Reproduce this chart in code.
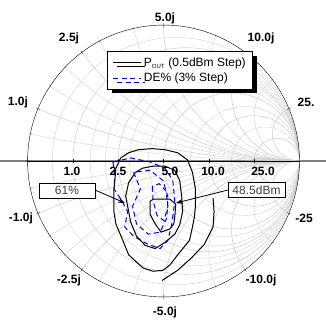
\documentclass[border=0pt]{standalone}
\usepackage{pgfplots}
\pgfplotsset{compat=1.18}
\usepgfplotslibrary{smithchart}
\usetikzlibrary{arrows.meta,shadows}
\usepackage{fontspec}
\setmainfont{Liberation Sans}
\begin{document}
\begin{tikzpicture}
\useasboundingbox (0pt,0pt) rectangle (326pt,-321pt);
\draw[black!50, line width=1.8pt] (0pt,-161pt) -- (326pt,-161pt);
\begin{smithchart}[
  at={(163.5pt,-161pt)}, anchor=center,
  scale only axis, width=272pt, height=272pt,
  show origin=false,
  xtick={0.2,0.5,1,2,5},
  minor xtick={0.1,0.3,0.4,0.6,0.8,1.5,3},
  ytick={-5,-2,-1,-0.5,-0.2,0,0.2,0.5,1,2,5},
  minor ytick={-3,-1.5,-0.8,-0.6,-0.4,-0.3,-0.1,0.1,0.3,0.4,0.6,0.8,1.5,3},
  xminorgrids=true, yminorgrids=true,
  xticklabels={}, yticklabels={},
  grid style={black!20, line width=0.5pt},
  minor grid style={black!16, line width=0.45pt},
  legend style={draw=black, fill=white, line width=0.8pt,
    drop shadow={shadow xshift=4pt, shadow yshift=-4pt, opacity=1, fill=black},
    at={(0.294,0.903)}, anchor=north west,
    font=\fontsize{12}{13}\selectfont, inner xsep=5pt, inner ysep=4pt,
    row sep=1pt},
  legend cell align=left,
  legend image code/.code={\draw[#1] (0pt,0pt) -- (28pt,0pt);},
]
% Pout contours (pixel-read, Gamma plane)
\addplot[is smithchart cs, black, line width=1pt] coordinates {
(-0.0975,-0.2955) (-0.0758,-0.2803) (0.0469,-0.2803) (0.0903,-0.3182) (0.0830,-0.4091)
(0.0758,-0.4621) (0.0469,-0.5) (-0.0181,-0.5227) (-0.0614,-0.4621) (-0.0975,-0.3939) (-0.0975,-0.2955)};
\addlegendentry{P\textsubscript{\fontsize{6}{6}\selectfont OUT} (0.5dBm Step)}
\addplot[is smithchart cs, blue, dashed, dash pattern=on 5pt off 3.5pt, line width=1pt] coordinates {
(-0.3718,-0.0076) (-0.3574,-0.1061) (-0.3646,-0.2045) (-0.3141,-0.2803) (-0.2635,-0.3712)
(-0.2852,-0.4848) (-0.2202,-0.5530) (-0.1119,-0.6136) (-0.0253,-0.6439) (0.0325,-0.5833)
(0.0614,-0.4621) (0.0830,-0.2955) (0.0686,-0.1439) (0.0108,-0.0530) (-0.0975,-0.0076)
(-0.2419,0.0227) (-0.3718,-0.0076)};
\addlegendentry{DE\% (3\% Step)}
\addplot[is smithchart cs, black, line width=1pt, forget plot] coordinates {
(-0.1552,-0.0530) (-0.0758,-0.0379) (0.0108,-0.0379) (0.0830,-0.0682) (0.1191,-0.1439)
(0.1336,-0.2576) (0.1408,-0.3712) (0.1191,-0.4697) (0.0830,-0.5379) (0.0108,-0.5985)
(-0.0614,-0.6439) (-0.1336,-0.6212) (-0.1986,-0.5530) (-0.2419,-0.4470) (-0.2635,-0.3333)
(-0.2780,-0.2576) (-0.2563,-0.1591) (-0.2058,-0.0833) (-0.1552,-0.0530)};
\addplot[is smithchart cs, black, line width=1pt, forget plot] coordinates {
(-0.3502,-0.0530) (-0.3141,0.0227) (-0.2563,0.0606) (-0.1841,0.0833) (-0.0830,0.0909)
(0.0108,0.0833) (0.1047,0.0606) (0.1769,0.0076) (0.2130,-0.0833) (0.2347,-0.2045)
(0.2347,-0.3333) (0.2274,-0.4091) (0.2130,-0.4848) (0.1913,-0.5833) (0.1047,-0.6894)
(0.0469,-0.7652) (-0.0036,-0.8030) (-0.0758,-0.8106) (-0.1480,-0.7879) (-0.1913,-0.75)
(-0.2563,-0.6894) (-0.2996,-0.5833) (-0.3502,-0.4621) (-0.3646,-0.3712) (-0.3646,-0.2197)
(-0.3502,-0.0530)};
\addplot[is smithchart cs, black, line width=1pt, forget plot] coordinates {
(0.3646,-0.2727) (0.3718,-0.3712) (0.3646,-0.4848) (0.2996,-0.6136) (0.2058,-0.7121)
(0.1047,-0.8030) (-0.0108,-0.8788)};
% DE contours
\addplot[is smithchart cs, blue, dash pattern=on 5pt off 3.5pt, line width=1pt, forget plot] coordinates {
(-0.2202,-0.0833) (-0.1697,-0.2045) (-0.2274,-0.3333) (-0.1986,-0.4621) (-0.1119,-0.5379)
(-0.0253,-0.5227) (0.0253,-0.4167) (0.0325,-0.2652) (-0.0036,-0.1439) (-0.0975,-0.0682)
(-0.2202,-0.0833)};
\addplot[is smithchart cs, blue, dash pattern=on 5pt off 3.5pt, line width=1pt, forget plot] coordinates {
(-0.0830,-0.1894) (-0.0758,-0.2955) (-0.0469,-0.4015) (0.0036,-0.4394) (0.0325,-0.3333)
(0.0181,-0.2197) (-0.0325,-0.1667) (-0.0830,-0.1894)};
\end{smithchart}
\begin{scope}[x=1pt,y=-1pt, font=\fontsize{12}{12}\selectfont\bfseries]
\node at (165,18) {5.0j};
\node at (69,38) {2.5j};
\node at (261,38) {10.0j};
\node at (18,102) {1.0j};
\node at (306,102) {25.};
\node at (21,218) {-1.0j};
\node at (304,218) {-25};
\node at (69,280) {-2.5j};
\node at (261,280) {-10.0j};
\node at (165,312) {-5.0j};
\node at (72,171) {1.0};
\node at (118,171) {2.5};
\node at (170,171) {5.0};
\node at (213,171) {10.0};
\node at (263,171) {25.0};
\end{scope}
\begin{scope}[x=1pt,y=-1pt, font=\fontsize{12}{12}\selectfont]
\draw[line width=0.8pt, -{Stealth[length=7pt,width=5pt]}] (95,190) -- (125,203);
\draw[line width=0.8pt, -{Stealth[length=7pt,width=5pt]}] (228,190) -- (176,203);
\node[draw, fill=white, line width=0.7pt, minimum width=56pt, minimum height=15pt, inner sep=0pt, text=black!75] at (67,190.5) {61\%};
\node[draw, fill=white, line width=0.7pt, minimum width=57pt, minimum height=15pt, inner sep=0pt, text=black!75] at (256.5,190) {48.5dBm};
\end{scope}
\end{tikzpicture}
\end{document}
